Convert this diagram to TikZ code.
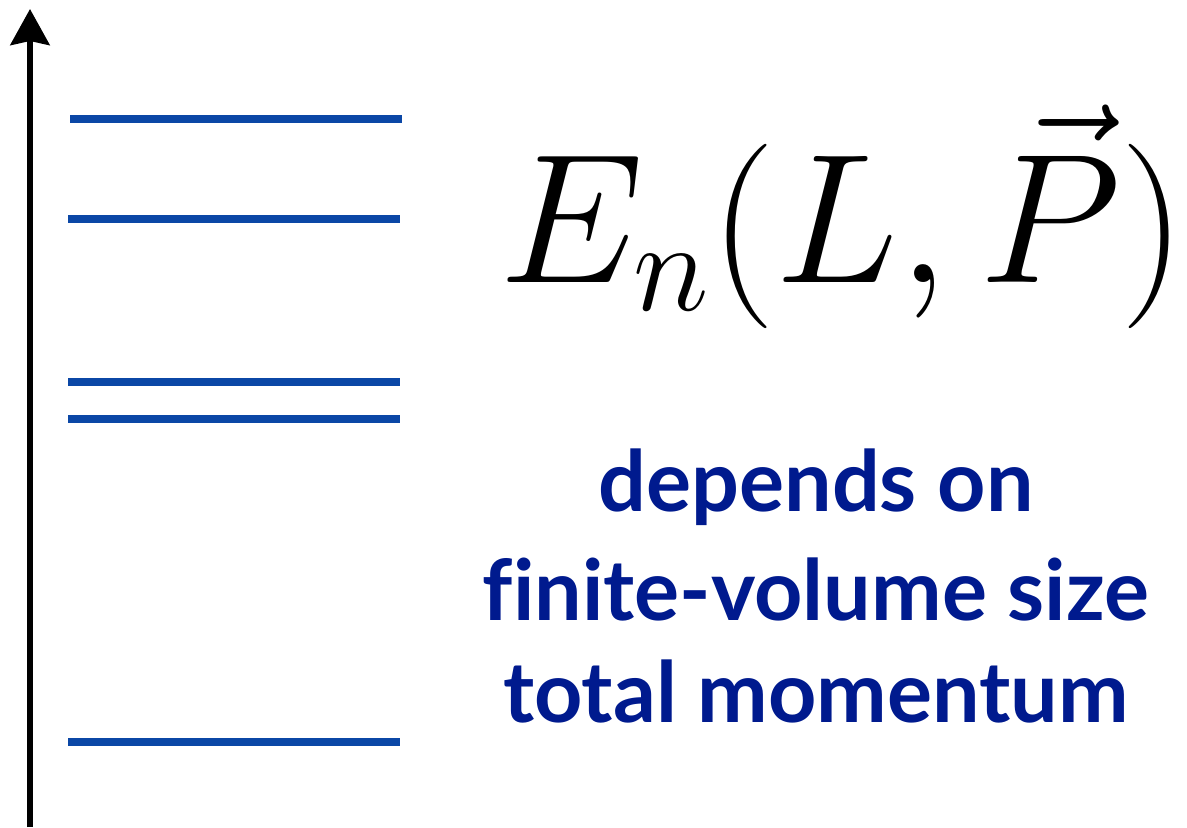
\RequirePackage{fix-cm}
\documentclass[tikz,border=0pt]{standalone}
\usepackage{amsmath}
\usepackage{fontspec}
\setsansfont[Ligatures=NoCommon]{Lato}
\usepackage{tikz}
\usetikzlibrary{arrows.meta,positioning}
\definecolor{levelblue}{HTML}{0B47A6}
\definecolor{textblue}{HTML}{001A8E}
\definecolor{ink}{HTML}{000000}

\begin{document}
\begin{tikzpicture}[
  x=1cm,y=1cm,
  line cap=butt,line join=miter,
  axis/.style={-{Stealth[length=.72cm,width=.78cm,inset=.08cm]},line width=.12cm,draw=ink},
  level/.style={line width=.15cm,draw=levelblue},
  energy/.style={anchor=base,inner sep=0pt,font=\fontsize{105}{118}\selectfont},
  remark/.style={anchor=base,inner sep=0pt,text=textblue,
                 font=\sffamily\bfseries\fontsize{48}{56}\selectfont}
]
\useasboundingbox (0,0) rectangle (23.74,16.54);

% energy axis
\coordinate (axbot) at (.60,0);
\coordinate (axtop) at (.60,16.36);
\draw[axis] (axbot) -- (axtop);

% finite-volume levels
\foreach \y/\xa/\xb in {14.16/1.40/8.04,12.16/1.36/8.00,8.90/1.36/8.00,8.16/1.36/8.00,1.70/1.36/8.00}{
  \draw[level] (\xa,\y) -- (\xb,\y);
}

\node[energy] (spectrum) at (16.86,10.88) {$E_n(L,\vec{P})$};

\node[remark] (depends) at (16.32,6.30) {depends on};
\node[remark] (volume) at (16.32,4.14) {finite-volume size};
\node[remark] (momentum) at (16.32,2.10) {total momentum};
\end{tikzpicture}
\end{document}
